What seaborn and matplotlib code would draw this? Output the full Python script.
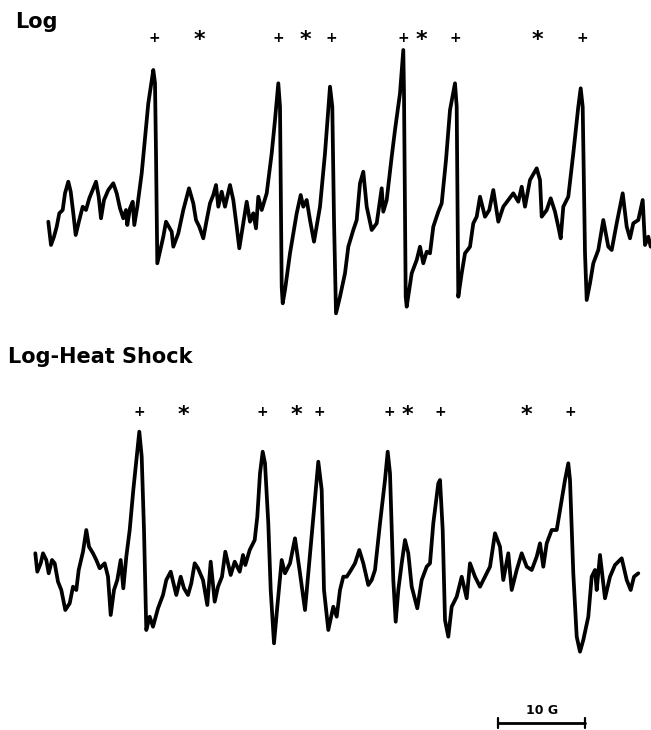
import matplotlib
matplotlib.use("Agg")
import matplotlib.pyplot as plt
import seaborn as sns
import pandas as pd

# ---- Data (field position, signal level; chart units) ----
log_field = [48.3, 51, 54, 56.7, 59.3, 62.7, 65, 68.3, 70.7, 73.3, 75.7, 79.3, 82.7, 86,
             89.3, 92.7, 96, 98.7, 101, 104, 108.3, 113.3, 116.7, 120, 123.3, 126, 127.3,
             130, 132.7, 134.3, 137.3, 141.7, 148.3,
             153.3, 155, 156, 157.3, 163.3, 166, 171.7, 173.3, 178.3, 183.3, 189, 193.3,
             196, 199.3, 203.3, 206.7, 210, 213.3, 216, 218.3, 221.7, 225, 230, 233.3,
             236.7, 239.3, 242.7, 246.7, 250, 253.3, 256, 258.3, 261.7, 266.7,
             271.7, 275, 278.3, 280, 281.7, 282.7,
             285, 290, 296.7, 300.7, 303.3, 306.7, 310, 314, 320, 325, 330, 332.3, 334,
             336, 340, 345, 348.3, 353.3, 356.7, 360, 363.3, 366.7, 371.7, 376.7, 381.7,
             383.3, 386.7, 391.7, 395, 400, 403.3, 404, 405.7, 406.7, 411.7, 416.7, 420,
             423.3, 426.7, 430, 433.3, 438.3, 441.7, 446, 450, 455, 456.7, 458.3, 461.7,
             465, 470, 473.3, 476.7, 480, 485, 489.3, 493.3, 498.3, 503.3, 508.3, 513.3,
             518.3, 521.7, 525, 530, 536.7, 540, 541.7, 546.7, 550.7, 555, 558.3, 560.7,
             563.3, 568.3, 573.3, 578.3, 580.7, 582.7, 585, 586.7, 590, 593.3, 598.3,
             603.3, 608.3, 611.7, 616.7, 622.7, 626.7, 630, 633.3, 638.3, 642.7, 645,
             648.3, 650.7]
log_signal = [221.7, 245, 236.7, 226.7, 213.3, 210, 193.3, 181.7, 191.7, 213.3, 235, 220,
              206.7, 210, 198.3, 190, 181.7, 196.7, 218.3, 200, 190, 183.3, 193.3, 208.3,
              218.3, 210, 225, 208.3, 201.7, 225, 206.7, 173.3, 103.3,
              70, 83, 153, 263.3, 236.7, 221.7, 231.7, 246.7, 233.3, 210, 188.3, 203.3,
              220, 226.7, 238.3, 220, 203.3, 195, 185, 206.7, 191.7, 206.7, 185, 200,
              226.7, 248.3, 226.7, 201.7, 221.7, 213.3, 228.3, 196.7, 210, 193.3,
              153.3, 120, 83.3, 106.7, 286.7, 303.3,
              290, 253.3, 213.3, 195, 206.7, 200, 220, 241.7, 206.7, 153.3, 86.7,
              106.7, 220, 313.3, 296.7, 273.3, 246.7, 230, 220, 183.3, 171.7, 206.7, 230,
              223.3, 188.3, 211.7, 200, 156.7, 130, 93.3, 50, 93.3, 296.7, 306.7, 273.3,
              260, 246.7, 263.3, 251.7, 253.3, 226.7, 211.7, 203.3, 160, 110, 83.3, 106.7,
              296.7, 273.3, 253.3, 246.7, 223.3, 216.7, 196.7, 216.7, 210, 190, 221.7,
              206.7, 200, 193.3, 201.7, 186.7, 206.7, 180, 168.3, 180, 216.7, 210, 198.3,
              211.7, 226.7, 238.3, 206.7, 196.7, 153.3, 106.7, 88.3, 106.7, 253.3, 300,
              283.3, 263.3, 250, 220, 246.7, 250, 223.3, 193.3, 226.7, 238.3, 223.3, 220,
              200, 245, 236.7, 246.7]

heat_field = [35.3, 37.3, 40.7, 43, 46.3, 48.7, 52, 54.7, 58, 61.3, 65.3, 69.7, 73, 76.3,
              78.7, 83, 86.3, 89, 93, 96.3, 99.7, 104.7, 108, 110.7, 114, 117.3, 120.7,
              123.3, 126.3, 129.7, 133.3, 136.7, 139.3, 141.7, 144,
              146.3, 149.7, 153, 158, 163, 166.3, 170.7, 176.3, 180.7, 184, 188, 191.3,
              194.7, 198, 203, 207.3, 210.7, 214.7, 218, 222, 225.3, 230.7, 234.7, 239.7,
              243, 245.3, 249.7, 254.7,
              257.3, 260, 262.7, 265, 268.3, 270.7, 274, 277.3,
              281.7, 285, 290, 295, 300, 305, 308.3, 313.3, 318.3, 321.7, 324, 328.3,
              333.3, 336.7, 340, 343.3, 346.7, 350, 355, 359.3, 363.3, 368.3, 371.7, 375,
              380, 385, 387.7, 390, 393.3, 395.7, 398.3, 401.7, 405, 408.3, 411.7, 417.3,
              421.7, 426.7, 430, 433.3, 438.3, 440, 442.7, 445, 448.3, 451.7, 456.7,
              461.7, 466.7, 470, 475, 480, 485, 490, 495, 500, 503.3, 508.3, 511.7, 516.7,
              521.7, 526.7, 531.7, 536.7, 540, 543.3, 546.7, 551.7, 556.7, 561.7, 565,
              568.3, 570, 573.3, 576.7, 580, 583.3, 588.3, 591.7, 595, 596.7, 600, 605,
              610, 615, 621.7, 626.7, 630.7, 634, 638.3]
heat_signal = [553.3, 571.7, 563.3, 553.3, 560, 573.3, 560, 563.3, 581.7, 590, 610, 603.3,
               586.7, 590, 570, 551.7, 530, 546.7, 553.3, 560, 568.3, 563.3, 576.7, 615,
               590, 580, 560, 588.3, 556.7, 530, 490, 456.7, 431.7, 456.7, 530,
               630, 616.7, 626.7, 608.3, 595, 580, 571.7, 595, 576.7, 588.3, 595, 583.3,
               563.3, 568.3, 580, 605, 561.7, 601.7, 586.7, 576.7, 551.7, 575, 561.7, 571.7,
               555, 565, 550, 540,
               516.7, 473.3, 451.7, 463.3, 523.3, 590, 643.3, 606.7,
               560, 573.3, 563.3, 538.3, 573.3, 610, 573.3, 516.7, 461.7, 490, 590, 630,
               606.7, 616.7, 590, 576.7, 576.7, 571.7, 563.3, 550, 563.3, 585, 580, 570,
               523.3, 480, 451.7, 473.3, 580, 621.7, 590, 563.3, 540, 553.3, 586.7, 608.3,
               580, 566.7, 563.3, 523.3, 483.3, 480, 530, 620, 636.7, 606.7, 596.7,
               576.7, 598.3, 563.3, 576.7, 586.7, 576.7, 566.7, 533.3, 546.7, 580, 553.3,
               590, 570, 553.3, 566.7, 570, 556.7, 543.3, 566.7, 543.3, 530, 530, 500,
               480, 463.3, 480, 573.3, 636.7, 651.7, 640, 616.7, 576.7, 570, 590, 555,
               598.3, 576.7, 565, 558.3, 580, 590, 576.7, 573.3]

# line assignments marked above each spectrum
log_plus = [154, 278.3, 331, 403.3, 455.7, 582.7]
log_star = [199.3, 305.3, 421.7, 537.3]
heat_plus = [139.3, 262.7, 319.3, 389.3, 440, 570]
heat_star = [183.3, 296.7, 407.3, 526.7]

panel_titles = ["Log", "Log-Heat Shock"]
scale_field = [498.3, 585]   # 10 G scale bar
scale_label = "10 G"

# ---- Plot ----
sns.set_theme(style="white")
plt.rcParams["font.family"] = ["DejaVu Sans"]

fig = plt.figure(figsize=(6.51, 7.30), dpi=100)
ax = fig.add_axes([0, 0, 1, 1])

df = pd.concat([
    pd.DataFrame({"field": log_field, "signal": log_signal, "spectrum": "Log"}),
    pd.DataFrame({"field": heat_field, "signal": heat_signal, "spectrum": "Log-Heat Shock"}),
])
sns.lineplot(data=df, x="field", y="signal", units="spectrum", estimator=None,
             sort=False, color="black", lw=2.7, ax=ax, legend=False)

def marks(xs, y, sym, size):
    for x in xs:
        ax.text(x, y, sym, ha="center", va="center", fontsize=size,
                fontweight="bold", color="black")

marks(log_plus, 38, "+", 10)
marks(log_star, 40, "*", 16)
marks(heat_plus, 412, "+", 10)
marks(heat_star, 415, "*", 16)

ax.text(15, 22, panel_titles[0], ha="left", va="center", fontsize=15,
        fontweight="heavy", color="black")
ax.text(8, 357, panel_titles[1], ha="left", va="center", fontsize=15,
        fontweight="heavy", color="black")

# scale bar
sns.lineplot(x=scale_field, y=[723, 723], color="black", lw=2, ax=ax, legend=False)
for x in scale_field:
    ax.plot([x, x], [718, 728], color="black", lw=1.6)
ax.text(sum(scale_field) / 2, 711, scale_label, ha="center", va="center",
        fontsize=9, fontweight="bold", color="black")

ax.set_xlim(0, 651)
ax.set_ylim(730, 0)
ax.set_axis_off()
fig.savefig("out.png", dpi=100, facecolor="white")
